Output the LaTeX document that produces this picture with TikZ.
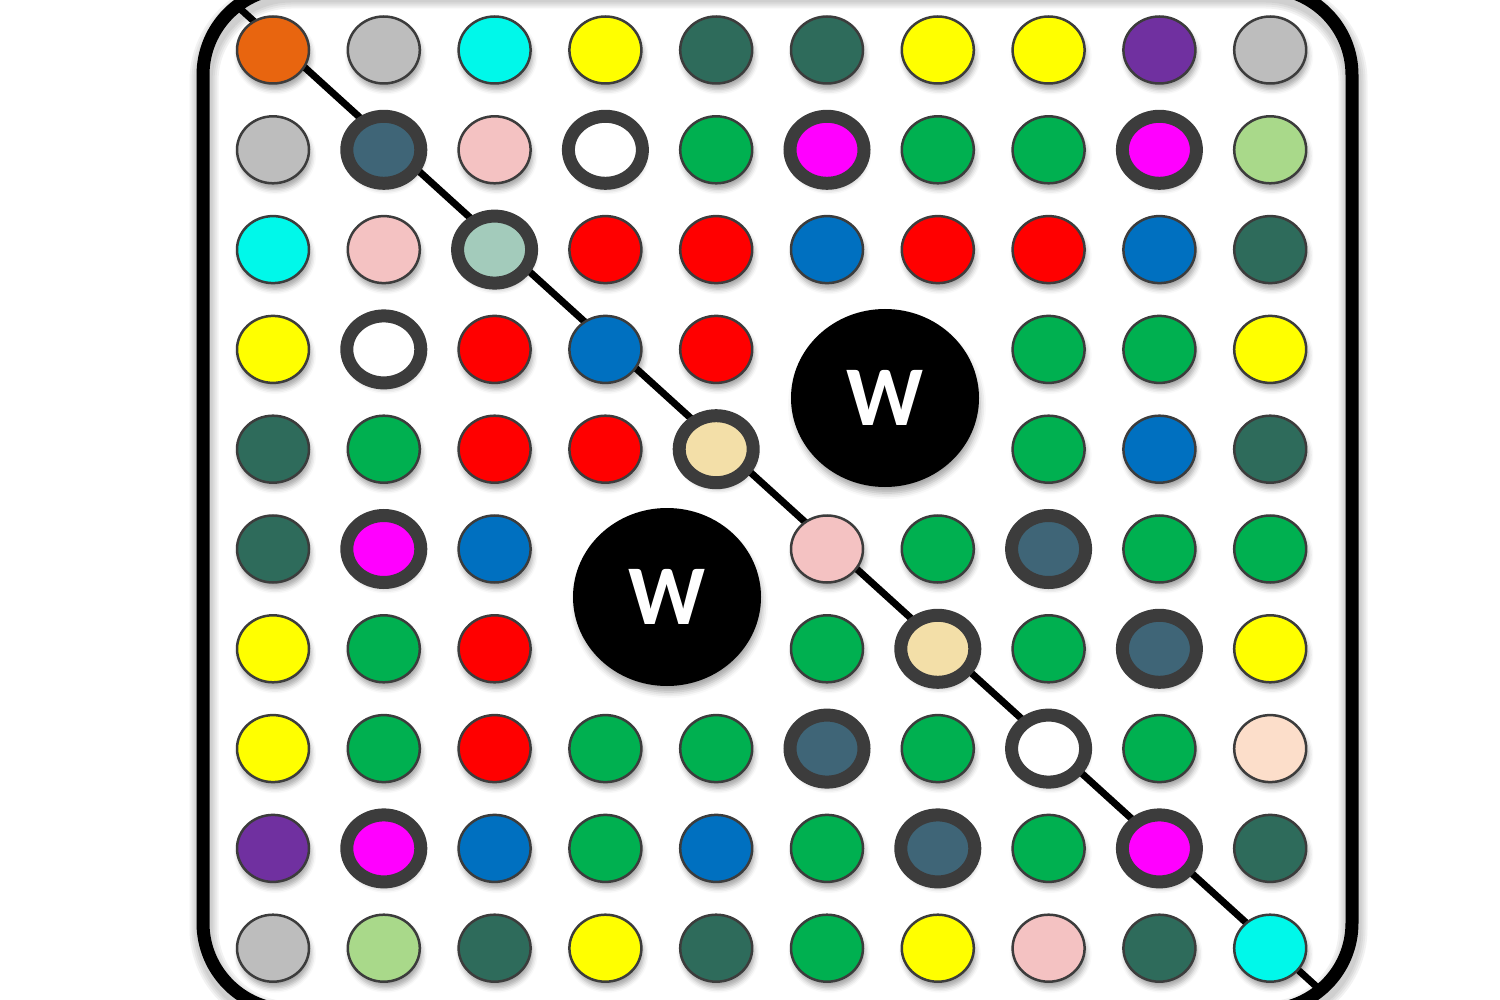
\documentclass[tikz,border=0pt]{standalone}
\usepackage{fontspec}
\newfontfamily\wfont{Carlito}
\usetikzlibrary{shapes.geometric,shadows.blur}

\definecolor{orng}{HTML}{E8650F}
\definecolor{silv}{HTML}{BDBDBD}
\definecolor{cyn}{HTML}{00F8EA}
\definecolor{yel}{HTML}{FFFF00}
\definecolor{teal}{HTML}{2E6B5B}
\definecolor{purp}{HTML}{7030A0}
\definecolor{grn}{HTML}{00B050}
\definecolor{lime}{HTML}{A9D98A}
\definecolor{pnk}{HTML}{F4C2C2}
\definecolor{rd}{HTML}{FF0000}
\definecolor{blu}{HTML}{0070C0}
\definecolor{peach}{HTML}{FCDECA}
\definecolor{slate}{HTML}{3F6577}
\definecolor{mint}{HTML}{A3CBBB}
\definecolor{beige}{HTML}{F3DFA8}
\definecolor{mag}{HTML}{FF00FF}
\definecolor{rimgray}{HTML}{3C3C3C}

\def\skipkind{none}

\begin{document}
\begin{tikzpicture}[x=1pt,y=-1pt,
    dot node/.style={ellipse,inner sep=0pt,minimum width=72pt,minimum height=67pt,draw=rimgray,line width=2.5pt,
        blur shadow={shadow xshift=2pt,shadow yshift=-6pt,shadow blur radius=5pt,shadow opacity=35}},
    ring node/.style={dot node,line width=13pt,minimum width=74pt,minimum height=67pt},
    w node/.style={ellipse,inner sep=0pt,minimum width=186pt,minimum height=176pt,fill=black,draw=black,line width=2pt,
        text=white,font=\wfont\bfseries\fontsize{85}{85}\selectfont,
        blur shadow={shadow xshift=2pt,shadow yshift=-7pt,shadow blur radius=6pt,shadow opacity=35}},
    frame/.style={line width=13pt,rounded corners=87pt}]
    \useasboundingbox (0,0) rectangle (1500,1000);

    % frame with a soft shadow, and the diagonal
    \foreach \w in {29,25,21,17}
        \draw[frame,line width=\w pt,black,opacity=0.05,xshift=1pt,yshift=-6pt] (203,-12) rectangle (1352,1010);
    \draw[frame] (203,-12) rectangle (1352,1010);
    \coordinate (diagA) at (236,5);
    \coordinate (diagB) at (1318,988);
    \draw[line width=7pt] (diagA) -- (diagB);

    % grid of dots, row by row
    \foreach \rowlist [count=\rowno] in {
        {orng/dot,silv/dot,cyn/dot,yel/dot,teal/dot,teal/dot,yel/dot,yel/dot,purp/dot,silv/dot},
        {silv/dot,slate/ring,pnk/dot,white/ring,grn/dot,mag/ring,grn/dot,grn/dot,mag/ring,lime/dot},
        {cyn/dot,pnk/dot,mint/ring,rd/dot,rd/dot,blu/dot,rd/dot,rd/dot,blu/dot,teal/dot},
        {yel/dot,white/ring,rd/dot,blu/dot,rd/dot,x/none,x/none,grn/dot,grn/dot,yel/dot},
        {teal/dot,grn/dot,rd/dot,rd/dot,beige/ring,x/none,x/none,grn/dot,blu/dot,teal/dot},
        {teal/dot,mag/ring,blu/dot,x/none,x/none,pnk/dot,grn/dot,slate/ring,grn/dot,grn/dot},
        {yel/dot,grn/dot,rd/dot,x/none,x/none,grn/dot,beige/ring,grn/dot,slate/ring,yel/dot},
        {yel/dot,grn/dot,rd/dot,grn/dot,grn/dot,slate/ring,grn/dot,white/ring,grn/dot,peach/dot},
        {purp/dot,mag/ring,blu/dot,grn/dot,blu/dot,grn/dot,slate/ring,grn/dot,mag/ring,teal/dot},
        {silv/dot,lime/dot,teal/dot,yel/dot,teal/dot,grn/dot,yel/dot,pnk/dot,teal/dot,cyn/dot}} {
        \foreach \fillc/\kind [count=\colno] in \rowlist {
            \ifx\kind\skipkind\else
                \node[\kind\space node,fill=\fillc] (d\rowno-\colno) at ({273+(\colno-1)*110.8},{50+(\rowno-1)*99.8}) {};
            \fi
        }
    }

    % the two W stones
    \node[w node] (wtop) at (885,398) {W};
    \node[w node] (wbot) at (667,597) {W};
\end{tikzpicture}
\end{document}
